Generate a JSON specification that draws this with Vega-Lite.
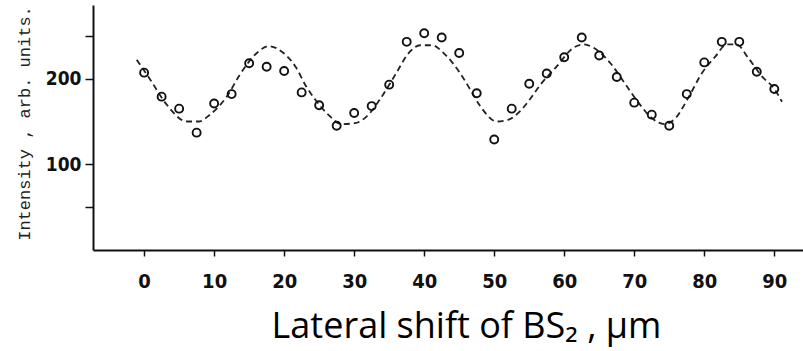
{
  "$schema": "https://vega.github.io/schema/vega-lite/v6.json",
  "width": 710,
  "height": 245,
  "autosize": {"type": "none"},
  "padding": {"left": 93, "top": 5, "right": 0, "bottom": 101},
  "background": "white",
  "config": {"view": {"stroke": null}},
  "datasets": {
    "points": [
      {"shift": 0, "intensity": 207}, {"shift": 2.5, "intensity": 179}, {"shift": 5, "intensity": 165},
      {"shift": 7.5, "intensity": 137}, {"shift": 10, "intensity": 171}, {"shift": 12.5, "intensity": 182},
      {"shift": 15, "intensity": 218}, {"shift": 17.5, "intensity": 214}, {"shift": 20, "intensity": 209},
      {"shift": 22.5, "intensity": 184}, {"shift": 25, "intensity": 169}, {"shift": 27.5, "intensity": 145},
      {"shift": 30, "intensity": 160}, {"shift": 32.5, "intensity": 168}, {"shift": 35, "intensity": 193},
      {"shift": 37.5, "intensity": 243}, {"shift": 40, "intensity": 253}, {"shift": 42.5, "intensity": 248},
      {"shift": 45, "intensity": 230}, {"shift": 47.5, "intensity": 183}, {"shift": 50, "intensity": 129},
      {"shift": 52.5, "intensity": 165}, {"shift": 55, "intensity": 194}, {"shift": 57.5, "intensity": 206},
      {"shift": 60, "intensity": 225}, {"shift": 62.5, "intensity": 248}, {"shift": 65, "intensity": 227},
      {"shift": 67.5, "intensity": 202}, {"shift": 70, "intensity": 172}, {"shift": 72.5, "intensity": 158},
      {"shift": 75, "intensity": 145}, {"shift": 77.5, "intensity": 182}, {"shift": 80, "intensity": 219},
      {"shift": 82.5, "intensity": 243}, {"shift": 85, "intensity": 243}, {"shift": 87.5, "intensity": 208},
      {"shift": 90, "intensity": 188}
    ],
    "curve": [
      {"shift": -1.05, "intensity": 222}, {"shift": 0.95, "intensity": 198}, {"shift": 3.2, "intensity": 170},
      {"shift": 6.1, "intensity": 150}, {"shift": 7.8, "intensity": 150}, {"shift": 9.4, "intensity": 158},
      {"shift": 11.8, "intensity": 179}, {"shift": 13.7, "intensity": 205}, {"shift": 16.1, "intensity": 230},
      {"shift": 17.8, "intensity": 238}, {"shift": 19.9, "intensity": 230}, {"shift": 21.7, "intensity": 213},
      {"shift": 23.0, "intensity": 193}, {"shift": 24.4, "intensity": 176}, {"shift": 26.3, "intensity": 158},
      {"shift": 28.2, "intensity": 147}, {"shift": 30.1, "intensity": 148}, {"shift": 31.8, "intensity": 156},
      {"shift": 33.7, "intensity": 176}, {"shift": 35.9, "intensity": 205}, {"shift": 37.8, "intensity": 230},
      {"shift": 39.4, "intensity": 239}, {"shift": 41.1, "intensity": 239}, {"shift": 43.0, "intensity": 228},
      {"shift": 45.0, "intensity": 208}, {"shift": 46.6, "intensity": 187}, {"shift": 48.0, "intensity": 168},
      {"shift": 50.4, "intensity": 150}, {"shift": 52.0, "intensity": 152}, {"shift": 53.7, "intensity": 162},
      {"shift": 55.1, "intensity": 176}, {"shift": 56.6, "intensity": 193}, {"shift": 58.9, "intensity": 214},
      {"shift": 61.3, "intensity": 236}, {"shift": 62.8, "intensity": 240}, {"shift": 64.2, "intensity": 236},
      {"shift": 66.6, "intensity": 218}, {"shift": 68.7, "intensity": 194}, {"shift": 70.6, "intensity": 172},
      {"shift": 72.5, "intensity": 154}, {"shift": 74.4, "intensity": 147}, {"shift": 75.9, "intensity": 154},
      {"shift": 77.8, "intensity": 179}, {"shift": 79.7, "intensity": 207}, {"shift": 81.6, "intensity": 226},
      {"shift": 83.2, "intensity": 240}, {"shift": 84.6, "intensity": 240}, {"shift": 86.3, "intensity": 224},
      {"shift": 88.2, "intensity": 203}, {"shift": 90.1, "intensity": 187}, {"shift": 91.1, "intensity": 173}
    ]
  },
  "encoding": {
    "x": {
      "field": "shift",
      "type": "quantitative",
      "scale": {"domain": [-7.3, 94.1], "nice": false, "zero": false},
      "axis": {
        "values": [0, 10, 20, 30, 40, 50, 60, 70, 80, 90],
        "grid": false,
        "domainColor": "#111",
        "domainWidth": 2,
        "tickColor": "#111",
        "tickWidth": 1.5,
        "tickSize": 6,
        "labelFont": "DejaVu Sans Condensed",
        "labelFontSize": 20,
        "labelFontWeight": 600,
        "labelColor": "#111",
        "labelPadding": 15,
        "title": "Lateral shift of BS₂ , μm",
        "titleFont": "Open Sans",
        "titleFontSize": 36,
        "titleFontWeight": "normal",
        "titleColor": "#000",
        "titleX": 373,
        "titleY": 87,
        "titleBaseline": "alphabetic",
        "titleAnchor": "middle",
        "titleAlign": "center"
      }
    },
    "y": {
      "field": "intensity",
      "type": "quantitative",
      "scale": {"domain": [0, 286], "nice": false},
      "axis": {
        "values": [50, 100, 200, 250],
        "labelExpr": "datum.value == 100 || datum.value == 200 ? datum.label : ''",
        "grid": false,
        "domainColor": "#111",
        "domainWidth": 2,
        "tickColor": "#111",
        "tickWidth": 1.5,
        "tickSize": 8,
        "labelFont": "DejaVu Sans Condensed",
        "labelFontSize": 19,
        "labelFontWeight": "bold",
        "labelColor": "#111",
        "labelPadding": 4,
        "title": "Intensity , arb. units.",
        "titleFont": "Liberation Mono",
        "titleFontSize": 17,
        "titleFontWeight": "normal",
        "titleColor": "#222",
        "titleX": -69,
        "titleY": 118,
        "titleBaseline": "middle",
        "titleAngle": -90,
        "titleAlign": "center"
      }
    }
  },
  "layer": [
    {
      "data": {"name": "curve"},
      "mark": {"type": "line", "color": "#222", "strokeWidth": 1.8, "strokeDash": [6, 4], "interpolate": "monotone"}
    },
    {
      "data": {"name": "points"},
      "mark": {"type": "point", "shape": "circle", "filled": false, "color": "#111", "size": 64, "strokeWidth": 1.9, "opacity": 1}
    }
  ]
}
